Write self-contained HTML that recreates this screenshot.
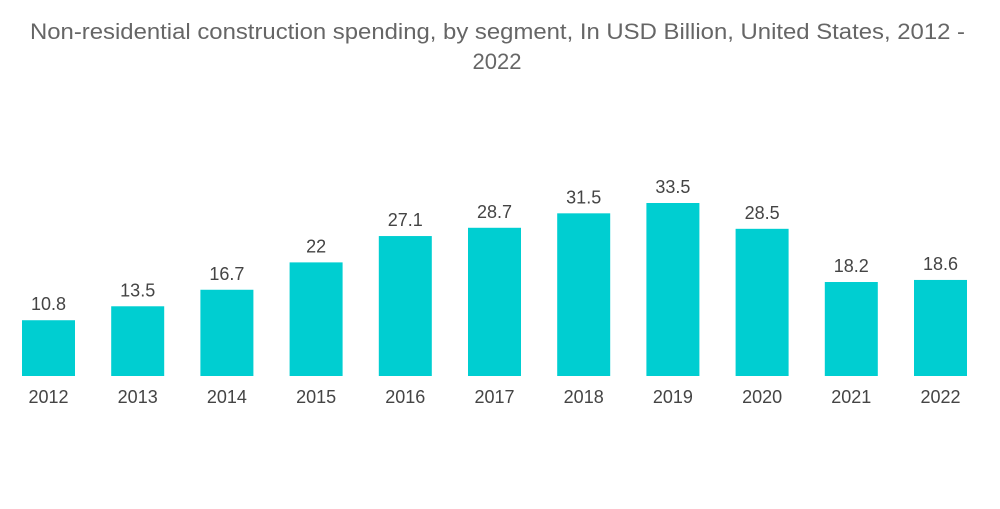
<!DOCTYPE html>
<html><head><meta charset="utf-8"><style>
html,body{margin:0;padding:0;background:#fff;}
body{width:1000px;height:504px;overflow:hidden;font-family:"Liberation Sans",sans-serif;}
</style></head><body>
<svg width="1000" height="504" xmlns="http://www.w3.org/2000/svg">
<text x="30" y="39" textLength="935" lengthAdjust="spacingAndGlyphs" font-size="22" fill="#666" font-family="Liberation Sans, sans-serif">Non-residential construction spending, by segment, In USD Billion, United States, 2012 -</text>
<text x="497" y="69" text-anchor="middle" font-size="22" fill="#666" font-family="Liberation Sans, sans-serif">2022</text>
<g id="bars"></g>
</svg>
<script>
const categories=["2012","2013","2014","2015","2016","2017","2018","2019","2020","2021","2022"];
const values=[10.8,13.5,16.7,22,27.1,28.7,31.5,33.5,28.5,18.2,18.6];
const labels=["10.8","13.5","16.7","22","27.1","28.7","31.5","33.5","28.5","18.2","18.6"];
const base=376, scale=173/33.5, x0=22, step=89.2, bw=53;
const y=v=>base-v*scale;
const x=i=>x0+i*step;
const g=document.getElementById('bars');
const ns="http://www.w3.org/2000/svg";
categories.forEach((c,i)=>{
  const r=document.createElementNS(ns,'rect');
  r.setAttribute('x',x(i));r.setAttribute('y',y(values[i]));
  r.setAttribute('width',bw);r.setAttribute('height',base-y(values[i]));
  r.setAttribute('fill','#00CED1');
  
  
  g.appendChild(r);
  const t=document.createElementNS(ns,'text');
  t.setAttribute('x',x(i)+bw/2);t.setAttribute('y',y(values[i])-10);
  t.setAttribute('text-anchor','middle');t.setAttribute('font-size','18');t.setAttribute('fill','#444');
  t.textContent=labels[i];
  
  
  g.appendChild(t);
  const a=document.createElementNS(ns,'text');
  a.setAttribute('x',x(i)+bw/2);a.setAttribute('y',403);
  a.setAttribute('text-anchor','middle');a.setAttribute('font-size','18');a.setAttribute('fill','#444');
  a.textContent=c;
  
  
  g.appendChild(a);
});
</script>
</body></html>
